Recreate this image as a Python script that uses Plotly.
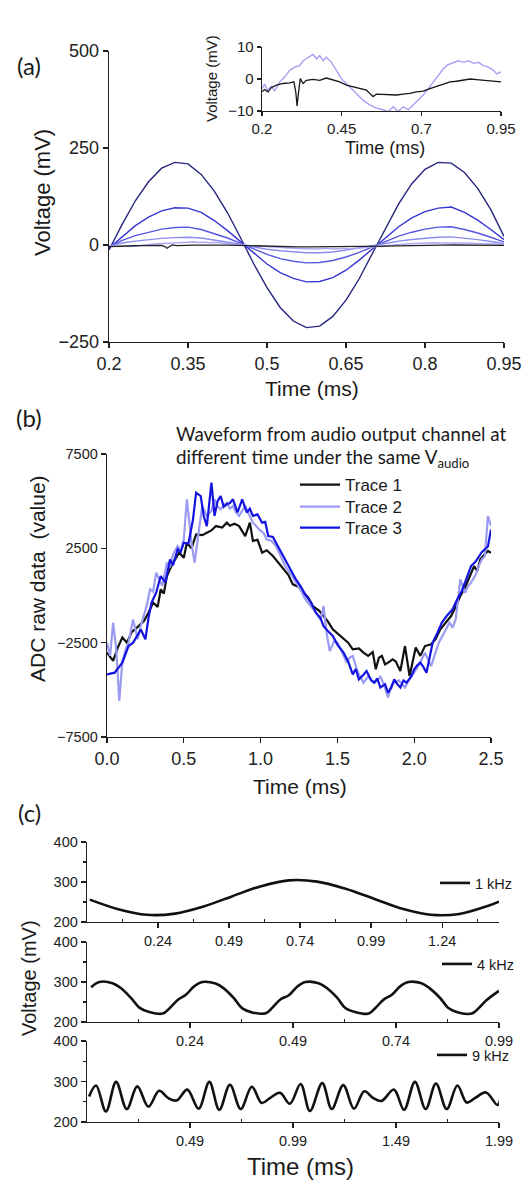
import plotly.graph_objects as go

W, H = 524, 1185
def fx(px): return px / W
def fy(py): return 1 - py / H

# ---------------- Panel (a) main ----------------
ta = [0.2, 0.225, 0.25, 0.275, 0.3, 0.325, 0.35, 0.375, 0.4, 0.425, 0.45, 0.475, 0.5, 0.525, 0.55,
      0.575, 0.6, 0.625, 0.65, 0.675, 0.7, 0.725, 0.75, 0.775, 0.8, 0.825, 0.85, 0.875, 0.9, 0.925, 0.95]
a_dark = [-13, 53, 114, 163, 198, 213, 209, 182, 139, 83, 18, -49, -110, -161, -196,
          -213, -209, -184, -142, -87, -22, 44, 106, 158, 195, 213, 211, 187, 146, 91, 22]
a_blue2 = [-8, 22, 50, 72, 88, 96, 95, 84, 63, 37, 8, -22, -49, -71, -86,
           -95, -94, -84, -65, -39, -10, 20, 47, 70, 86, 95, 98, 84, 64, 40, 14]
a_blue3 = [-5, 12, 24, 33, 41, 45, 46, 40, 30, 18, 4, -10, -24, -35, -42,
           -46, -45, -40, -31, -19, -5, 9, 23, 33, 41, 46, 47, 40, 31, 20, 8]
a_light4 = [-3, 5, 10, 14, 17, 19, 20, 18, 13, 8, 2, -5, -11, -15, -18,
            -20, -20, -18, -13, -8, -2, 4, 10, 14, 17, 20, 21, 18, 14, 9, 4]

# inset traces (also the two smallest traces in the main panel)
t_light = [0.2, 0.208, 0.217, 0.229, 0.24, 0.256, 0.271, 0.287, 0.303, 0.318, 0.329, 0.345, 0.36,
           0.371, 0.381, 0.392, 0.402, 0.418, 0.434, 0.449, 0.465, 0.481, 0.496, 0.517, 0.538,
           0.559, 0.58, 0.596, 0.612, 0.627, 0.643, 0.659, 0.674, 0.69, 0.706, 0.722, 0.737,
           0.753, 0.769, 0.784, 0.8, 0.816, 0.832, 0.848, 0.864, 0.879, 0.895, 0.911, 0.926, 0.937, 0.95]
v_light = [-3.0, -1.6, -3.5, -2.3, -3.7, -0.9, 0.6, 2.7, 3.7, 4.2, 5.7, 6.8, 7.7,
           6.3, 7.3, 5.7, 6.8, 5.2, 2.7, 0.1, -1.4, -3.0, -4.5, -6.6, -8.1,
           -9.1, -9.6, -10.2, -8.7, -10.2, -8.7, -9.6, -8.1, -6.6, -5.0, -3.0, -0.9,
           1.1, 3.2, 4.5, 5.2, 5.7, 5.2, 5.7, 4.9, 5.2, 4.2, 3.7, 2.7, 1.6, 2.2]
t_black = [0.2, 0.208, 0.219, 0.229, 0.245, 0.266, 0.287, 0.3, 0.306, 0.31, 0.315, 0.32, 0.329, 0.339,
           0.36, 0.381, 0.402, 0.423, 0.444, 0.465, 0.486, 0.507, 0.528, 0.538, 0.549, 0.559, 0.58,
           0.601, 0.622, 0.643, 0.664, 0.685, 0.706, 0.727, 0.748, 0.769, 0.79, 0.81, 0.832, 0.853,
           0.873, 0.895, 0.916, 0.937, 0.95]
v_black = [-4.0, -3.3, -4.0, -2.7, -1.9, -1.4, -1.2, -0.9, -4.0, -8.4, -4.0, 0.1, -1.4, -0.4,
           -0.1, -0.4, 0.3, -0.4, -0.9, -1.9, -2.5, -3.0, -3.5, -4.5, -5.5, -4.7, -4.8,
           -4.7, -5.0, -4.7, -4.5, -4.0, -3.8, -3.0, -2.3, -1.4, -0.9, -0.7, -0.4, 0.0,
           -0.2, -0.4, -0.6, -0.9, -0.9]

a_xticks = [0.2, 0.35, 0.5, 0.65, 0.8, 0.95]
a_yticks = [-250, 0, 250, 500]
in_xticks = [0.2, 0.45, 0.7, 0.95]
in_yticks = [-10, 0, 10]

# ---------------- Panel (b) ----------------
t_tr1 = [0, 0.04, 0.07, 0.1, 0.13, 0.16, 0.195, 0.24, 0.27, 0.3,
         0.33, 0.35, 0.37, 0.39, 0.41, 0.43, 0.47, 0.5, 0.52, 0.55,
         0.58, 0.62, 0.65, 0.68, 0.71, 0.75, 0.78, 0.8, 0.83, 0.86,
         0.9, 0.93, 0.95, 0.98, 1.01, 1.04, 1.08, 1.11, 1.15, 1.18,
         1.21, 1.25, 1.28, 1.31, 1.34, 1.38, 1.41, 1.44, 1.47, 1.5,
         1.54, 1.57, 1.6, 1.64, 1.67, 1.7, 1.73, 1.75, 1.77, 1.79,
         1.81, 1.83, 1.86, 1.88, 1.91, 1.94, 1.97, 2.01, 2.04, 2.07,
         2.11, 2.14, 2.17, 2.2, 2.24, 2.27, 2.3, 2.33, 2.35, 2.37,
         2.39, 2.41, 2.43, 2.46, 2.48, 2.5]
v_tr1 = [-3030, -3470, -2760, -2230, -2500, -1950, -1700, -1350, -910, -380,
         -600, 330, 100, 1030, 1400, 1740, 2270, 2000, 2800, 2500,
         3240, 3200, 3330, 3450, 3680, 3600, 3860, 3700, 3800, 3680,
         3150, 3860, 2890, 2950, 2270, 2400, 2090, 1800, 1390, 1100,
         590, 450, 150, -100, -560, -800, -1090, -1400, -1790, -2000,
         -2320, -2500, -2850, -2800, -3030, -3200, -3000, -3910, -3300, -3200,
         -3650, -3560, -3380, -3500, -4000, -2680, -4270, -2760, -3200, -2680,
         -2590, -2300, -1790, -1500, -1090, -600, -30, 400, 770, 1200,
         1560, 1300, 1910, 2200, 2360, 2270]
t_tr2 = [0, 0.02, 0.04, 0.06, 0.08, 0.1, 0.12, 0.14, 0.17, 0.2,
         0.22, 0.24, 0.26, 0.28, 0.3, 0.32, 0.34, 0.36, 0.39, 0.41,
         0.43, 0.46, 0.48, 0.5, 0.52, 0.55, 0.57, 0.6, 0.62, 0.65,
         0.68, 0.7, 0.72, 0.74, 0.76, 0.78, 0.8, 0.82, 0.84, 0.86,
         0.88, 0.9, 0.93, 0.95, 0.97, 0.99, 1.02, 1.04, 1.07, 1.1,
         1.13, 1.16, 1.2, 1.23, 1.26, 1.29, 1.32, 1.36, 1.39, 1.41,
         1.43, 1.45, 1.48, 1.5, 1.53, 1.56, 1.58, 1.6, 1.63, 1.67,
         1.7, 1.74, 1.76, 1.78, 1.81, 1.83, 1.85, 1.87, 1.9, 1.94,
         1.97, 2.0, 2.03, 2.07, 2.09, 2.11, 2.14, 2.16, 2.2, 2.23,
         2.25, 2.27, 2.3, 2.33, 2.35, 2.37, 2.4, 2.42, 2.44, 2.46,
         2.48, 2.5]
v_tr2 = [-2500, -3200, -1440, -2850, -5590, -3500, -2900, -2500, -1270, -2320,
         -1600, -1090, -500, 330, 200, 1210, 900, 510, 1740, 1500,
         2180, 2620, 2400, 2970, 5100, 2800, 1740, 3500, 4750, 4220,
         4500, 5100, 4700, 4570, 4800, 4920, 4600, 4750, 4400, 4220,
         4500, 4750, 4200, 3860, 3700, 3500, 3300, 2970, 2900, 2620,
         2100, 1560, 1100, 680, 300, -200, -500, -910, -1300, -560,
         -2000, -2940, -2400, -2500, -3000, -3560, -3300, -3200, -4000, -4620,
         -4300, -4620, -4500, -4270, -4900, -5410, -4800, -4620, -4500, -4880,
         -4400, -4090, -3700, -3030, -3400, -3740, -3000, -2500, -1900, -1440,
         -1700, -1270, 850, 150, 500, 680, 1100, 1560, 1900, 2090,
         4210, 3680]
t_tr3 = [0, 0.05, 0.1, 0.14, 0.17, 0.19, 0.22, 0.25, 0.27, 0.29,
         0.32, 0.35, 0.38, 0.41, 0.43, 0.46, 0.48, 0.5, 0.53, 0.56,
         0.58, 0.61, 0.63, 0.65, 0.68, 0.7, 0.72, 0.74, 0.76, 0.78,
         0.8, 0.82, 0.85, 0.88, 0.91, 0.93, 0.95, 0.98, 1.01, 1.03,
         1.05, 1.08, 1.1, 1.13, 1.16, 1.2, 1.23, 1.26, 1.29, 1.33,
         1.36, 1.39, 1.41, 1.44, 1.47, 1.5, 1.54, 1.57, 1.6, 1.62,
         1.64, 1.67, 1.69, 1.72, 1.74, 1.76, 1.78, 1.81, 1.83, 1.85,
         1.87, 1.89, 1.91, 1.93, 1.95, 1.98, 2.0, 2.02, 2.04, 2.06,
         2.08, 2.1, 2.12, 2.15, 2.18, 2.21, 2.25, 2.28, 2.31, 2.34,
         2.37, 2.4, 2.42, 2.44, 2.46, 2.48, 2.5]
v_tr3 = [-4180, -4090, -3560, -2680, -2500, -2230, -1800, -2320, -1200, -380,
         150, 1030, 700, 1910, 1600, 2450, 2300, 2800, 2750, 4040,
         5450, 5270, 4200, 3680, 5980, 4220, 5000, 5270, 4700, 4840,
         4900, 5100, 4400, 5100, 4400, 4600, 4220, 4300, 3860, 3900,
         3150, 3100, 2800, 2300, 1910, 1300, 850, 500, 60, -400,
         -910, -1200, -1620, -1900, -2140, -2600, -3030, -3500, -4180, -3900,
         -4450, -4200, -4000, -4500, -4620, -4400, -4880, -4700, -5150, -4900,
         -4450, -4700, -4880, -4500, -4620, -4300, -3910, -3700, -3560, -3800,
         -4090, -3300, -2500, -2000, -1440, -1100, -730, -200, 240, 900,
         1560, 1800, 2090, 2300, 2450, 2600, 3500]
b_names = ["Trace 1", "Trace 2", "Trace 3"]
b_xticks = [0.0, 0.5, 1.0, 1.5, 2.0, 2.5]
b_yticks = [-7500, -2500, 2500, 7500]

# ---------------- Panel (c) ----------------
t_1k = [0.0, 0.1, 0.2, 0.3, 0.4, 0.5, 0.6, 0.7, 0.8, 0.9, 1.0, 1.1, 1.2, 1.3, 1.4, 1.44]
v_1k = [256, 232, 218, 221, 239, 264, 289, 304, 301, 283, 258, 233, 218, 220, 240, 251]
t_4k = [0.0, 0.02, 0.052, 0.072, 0.097, 0.117, 0.141, 0.174, 0.19, 0.21,
        0.23, 0.25, 0.27, 0.302, 0.322, 0.347, 0.367, 0.391, 0.424, 0.44,
        0.46, 0.48, 0.5, 0.52, 0.552, 0.572, 0.597, 0.617, 0.641, 0.674,
        0.69, 0.71, 0.73, 0.75, 0.77, 0.802, 0.822, 0.847, 0.867, 0.891,
        0.924, 0.94, 0.96, 0.99]
v_4k = [287, 300, 297, 285, 260, 236, 225, 221, 234, 255,
        268, 289, 300, 296, 284, 259, 234, 224, 222, 236,
        257, 267, 288, 300, 297, 285, 261, 235, 225, 221,
        235, 256, 268, 289, 300, 297, 284, 260, 235, 224,
        221, 234, 255, 278]
t_9k = [0.0, 0.034, 0.082, 0.131, 0.183, 0.234, 0.288, 0.34, 0.385, 0.425,
        0.477, 0.532, 0.584, 0.632, 0.684, 0.736, 0.79, 0.838, 0.878, 0.927,
        0.975, 1.027, 1.072, 1.132, 1.178, 1.234, 1.286, 1.336, 1.38, 1.42,
        1.48, 1.529, 1.582, 1.634, 1.684, 1.736, 1.788, 1.833, 1.873, 1.927,
        1.982, 1.995]
v_9k = [263, 290, 226, 299, 232, 288, 238, 277, 259, 253,
        280, 233, 299, 230, 292, 232, 287, 247, 259, 272,
        245, 294, 227, 296, 232, 291, 233, 276, 259, 252,
        280, 230, 299, 232, 295, 232, 290, 248, 259, 273,
        242, 253]
c_names = ["1 kHz", "4 kHz", "9 kHz"]
c1_xticks = [0.24, 0.49, 0.74, 0.99, 1.24]
c1_minor = [0.115, 0.365, 0.615, 0.865, 1.115, 1.365]
c2_xticks = [0.24, 0.49, 0.74, 0.99]
c2_minor = [0.115, 0.365, 0.615, 0.865]
c3_xticks = [0.49, 0.99, 1.49, 1.99]
c3_minor = [0.24, 0.74, 1.24, 1.74]
c_yticks = [200, 300, 400]
c_yminor = [250, 350]

ARIAL = "Liberation Sans, Arial, sans-serif"
CALIBRI = "Lato, Carlito, Calibri, sans-serif"
INK = "#1e1e1e"

fig = go.Figure()

# (a) main
a_series = [(a_dark, "#25257f"), (a_blue2, "#3636d4"), (a_blue3, "#5656e2"), (a_light4, "#8c8cf0")]
for vals, col in a_series:
    fig.add_trace(go.Scatter(x=ta, y=vals, mode="lines", line=dict(color=col, width=1.4),
                             showlegend=False, xaxis="x", yaxis="y"))
fig.add_trace(go.Scatter(x=t_light, y=v_light, mode="lines", line=dict(color="#aea6f4", width=1.4),
                         showlegend=False, xaxis="x", yaxis="y"))
fig.add_trace(go.Scatter(x=t_black, y=v_black, mode="lines", line=dict(color="#222222", width=1.3),
                         showlegend=False, xaxis="x", yaxis="y"))
# (a) inset
fig.add_trace(go.Scatter(x=t_light, y=v_light, mode="lines", line=dict(color="#a79ff2", width=1.4),
                         showlegend=False, xaxis="x2", yaxis="y2"))
fig.add_trace(go.Scatter(x=t_black, y=v_black, mode="lines", line=dict(color="#151515", width=1.3),
                         showlegend=False, xaxis="x2", yaxis="y2"))

# (b) - one legend per entry so the spacing matches
b_legends = ["legend", "legend5", "legend6"]
for (tt, vv, col), nm, lg in zip([(t_tr1, v_tr1, "#111111"), (t_tr2, v_tr2, "#9b9bf2"), (t_tr3, v_tr3, "#1414e0")],
                                 b_names, b_legends):
    fig.add_trace(go.Scatter(x=tt, y=vv, mode="lines", name=nm, line=dict(color=col, width=2.2),
                             xaxis="x3", yaxis="y3", legend=lg))

# (c)
for (tt, vv), nm, ax, lg in zip([(t_1k, v_1k), (t_4k, v_4k), (t_9k, v_9k)], c_names,
                                [("x4", "y4"), ("x5", "y5"), ("x6", "y6")],
                                ["legend2", "legend3", "legend4"]):
    fig.add_trace(go.Scatter(x=tt, y=vv, mode="lines", name=nm, line=dict(color="#111111", width=2.6, shape="spline"),
                             xaxis=ax[0], yaxis=ax[1], legend=lg))

AX = dict(showline=True, linecolor=INK, linewidth=1.3, ticks="outside", ticklen=5, tickwidth=1.3,
          tickcolor=INK, showgrid=False, zeroline=False, mirror=False, fixedrange=True, automargin=False,
          ticklabeloverflow="allow")

def axis(**kw):
    d = dict(AX)
    d.update(kw)
    return d

tf = lambda s: dict(family=ARIAL, size=s, color="#222")

cx_dom = [fx(87), fx(499)]
layout_axes = dict(
    xaxis=axis(domain=[fx(109), fx(504)], anchor="y", range=[0.2, 0.95], tickmode="array", tickvals=a_xticks, tickfont=tf(18)),
    yaxis=axis(domain=[fy(342), fy(51)], anchor="x", range=[-250, 500], tickmode="array", tickvals=a_yticks, tickfont=tf(18)),
    xaxis2=axis(domain=[fx(262), fx(501)], anchor="y2", range=[0.2, 0.95], tickmode="array", tickvals=in_xticks, tickfont=tf(15), ticklen=4),
    yaxis2=axis(domain=[fy(111), fy(47)], anchor="x2", range=[-10, 10], tickmode="array", tickvals=in_yticks, tickfont=tf(15), ticklen=4),
    xaxis3=axis(domain=[fx(107), fx(491)], anchor="y3", range=[0, 2.5], tickmode="array", tickvals=b_xticks, tickformat=".1f", tickfont=tf(18)),
    yaxis3=axis(domain=[fy(737), fy(454)], anchor="x3", range=[-7500, 7500], tickmode="array", tickvals=b_yticks, tickfont=tf(14.5)),
    xaxis4=axis(domain=cx_dom, anchor="y4", range=[-0.01, 1.44], tickmode="array", tickvals=c1_xticks, tickfont=tf(14.5),
                minor=dict(tickmode="array", tickvals=c1_minor, ticks="inside", ticklen=3, tickcolor=INK)),
    yaxis4=axis(domain=[fy(922), fy(842)], anchor="x4", range=[200, 400], tickmode="array", tickvals=c_yticks, tickfont=tf(14.5),
                minor=dict(tickmode="array", tickvals=c_yminor, ticks="outside", ticklen=3, tickcolor=INK)),
    xaxis5=axis(domain=cx_dom, anchor="y5", range=[-0.01, 0.99], tickmode="array", tickvals=c2_xticks, tickfont=tf(14.5),
                minor=dict(tickmode="array", tickvals=c2_minor, ticks="inside", ticklen=3, tickcolor=INK)),
    yaxis5=axis(domain=[fy(1022), fy(942)], anchor="x5", range=[200, 400], tickmode="array", tickvals=c_yticks, tickfont=tf(14.5),
                minor=dict(tickmode="array", tickvals=c_yminor, ticks="outside", ticklen=3, tickcolor=INK)),
    xaxis6=axis(domain=cx_dom, anchor="y6", range=[-0.01, 1.99], tickmode="array", tickvals=c3_xticks, tickfont=tf(14.5),
                minor=dict(tickmode="array", tickvals=c3_minor, ticks="inside", ticklen=3, tickcolor=INK)),
    yaxis6=axis(domain=[fy(1122), fy(1041)], anchor="x6", range=[200, 400], tickmode="array", tickvals=c_yticks, tickfont=tf(14.5),
                minor=dict(tickmode="array", tickvals=c_yminor, ticks="outside", ticklen=3, tickcolor=INK)),
)

def ann(text, x, y, size, family=ARIAL, angle=0, xanchor="center", yanchor="middle"):
    return dict(text=text, x=fx(x), y=fy(y), xref="paper", yref="paper", showarrow=False,
                textangle=angle, xanchor=xanchor, yanchor=yanchor,
                font=dict(family=family, size=size, color="#1a1a1a"))

annotations = [
    ann("(a)", 29, 65, 24, CALIBRI),
    ann("Time (ms)", 312, 388, 21),
    ann("Voltage (mV)", 42, 193, 22, angle=-90),
    ann("Voltage (mV)", 212, 79, 15, angle=-90),
    ann("Time (ms)", 385, 148, 18),
    ann("(b)", 29, 418, 24, CALIBRI),
    ann("Waveform from audio output channel at", 174, 433, 18.8, CALIBRI, xanchor="left"),
    ann("different time under the same V<sub>audio</sub>", 174, 458, 18.8, CALIBRI, xanchor="left"),
    ann("Time (ms)", 300, 787, 21),
    ann("ADC raw data \u00a0(value)", 38, 579, 21, angle=-90),
    ann("(c)", 29, 812, 24, CALIBRI),
    ann("Voltage (mV)", 29, 978, 20, angle=-90),
    ann("Time (ms)", 300, 1166, 24),
]

def leg(x, y, size, iw=30):
    return dict(x=fx(x), y=fy(y), xanchor="left", yanchor="middle", bgcolor="rgba(0,0,0,0)",
                borderwidth=0, font=dict(family=ARIAL, size=size, color="#1a1a1a"),
                tracegroupgap=0, itemwidth=iw)

fig.update_layout(
    template="none",
    width=W, height=H, autosize=False,
    margin=dict(l=0, r=0, t=0, b=0, pad=0, autoexpand=False),
    paper_bgcolor="white", plot_bgcolor="white",
    annotations=annotations,
    legend=leg(295, 485, 17, 40),
    legend5=leg(295, 507, 17, 40),
    legend6=leg(295, 528, 17, 40),
    legend2=leg(435, 883, 14.5),
    legend3=leg(437, 964, 14.5),
    legend4=leg(432, 1055, 14.5),
    **layout_axes,
)

# remove the browser's default 8px body margin so the 524x1185 figure fills the window exactly
fig.write_html("out.html",
               config={"displayModeBar": False, "staticPlot": True},
               post_script="document.documentElement.style.margin='0';document.body.style.margin='0';"
                           "document.body.style.overflow='hidden';")
